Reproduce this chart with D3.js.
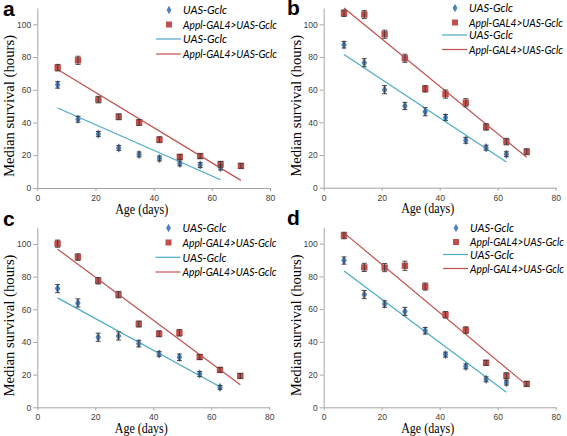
<!DOCTYPE html>
<html>
<head>
<meta charset="utf-8">
<script src="https://cdn.jsdelivr.net/npm/d3@7"></script>
<style>
  html, body { margin: 0; padding: 0; background: #fff; }
  svg { display: block; }
</style>
</head>
<body>
<svg id="chart" width="567" height="436"></svg>
<script>
// ---- Data ----
const agesUAS  = [7, 14, 21, 28, 35, 42, 49, 56, 63];
const agesAppl = [7, 14, 21, 28, 35, 42, 49, 56, 63, 70];

const aUAS  = [63, 42, 33, 24.5, 20.5, 18, 15, 14, 12.5];
const aAppl = [73.5, 78, 54, 43.5, 40, 29.5, 19, 19.5, 14.5, 13.5];
const bUAS  = [87.5, 76.5, 60, 50, 46.5, 43, 29, 24.5, 20.5];
const bAppl = [106.8, 106, 93.9, 79.2, 60.5, 57.3, 52, 37.2, 28.2, 22];
const cUAS  = [72.7, 63.9, 42.9, 43.7, 39, 32.7, 30.6, 20.4, 12.2];
const cAppl = [100.2, 92, 77.5, 69, 51, 45, 45.6, 30.8, 22.9, 19.2];
const dUAS  = [89.7, 68.9, 63.1, 58.6, 46.8, 32.2, 25, 17.1, 15.1];
const dAppl = [105, 85.5, 85.4, 86.5, 73.8, 56.6, 47.2, 27.2, 19.3, 14.3];

const aUASErr  = [2, 1.8, 1.5, 1.5, 1.5, 1.5, 1.5, 1.5, 1.5];
const aApplErr = [2, 2.5, 2, 1.8, 1.8, 1.8, 1.5, 1.5, 1.8, 1.5];
const bUASErr  = [2, 2.5, 2.5, 2.2, 2.5, 1.8, 1.8, 1.5, 1.5];
const bApplErr = [2, 2.5, 2.5, 2.5, 2, 2.5, 2.5, 2, 2, 1.8];
const cUASErr  = [2.5, 2.5, 2.5, 2.5, 2, 1.5, 2, 1.5, 1.2];
const cApplErr = [2.2, 2, 2, 2, 1.8, 1.8, 2, 1.5, 1.5, 1.5];
const dUASErr  = [2.2, 2.5, 2, 2.5, 2, 1.5, 1.5, 1.5, 1.5];
const dApplErr = [2, 2.5, 2.5, 2.8, 2.2, 2, 2, 1.5, 1.8, 1.5];

const panelLetters = ["a", "b", "c", "d"];
const legendLabels = ["UAS-Gclc", "Appl-GAL4>UAS-Gclc", "UAS-Gclc", "Appl-GAL4>UAS-Gclc"];
const xTicks = [0, 20, 40, 60, 80];
const yTicks = [0, 20, 40, 60, 80, 100];
const xTitle = "Age (days)";
const yTitle = "Median survival (hours)";

// ---- Styling ----
const COL_UAS = "#4F81BD", COL_APPL = "#C0504D";
const COL_UAS_LINE = "#4BACC6", COL_APPL_LINE = "#C0504D";
const AXIS_COL = "#a6a6a6", TICK_TEXT = "#404040";

const svg = d3.select("#chart");

function fit(xs, ys) {
  const mx = d3.mean(xs), my = d3.mean(ys);
  let sxy = 0, sxx = 0;
  xs.forEach((x, i) => { sxy += (x - mx) * (ys[i] - my); sxx += (x - mx) * (x - mx); });
  const m = sxy / sxx;
  return x => my + m * (x - mx);
}

const panels = [
  { letter: panelLetters[0], uas: aUAS, appl: aAppl, ue: aUASErr, ae: aApplErr,
    x0: 37.3, x1: 270, y0: 188, y100: 24.3, lx: 0, ly: 15.5, legX: 169, legY: [10, 24.5, 39, 54] },
  { letter: panelLetters[1], uas: bUAS, appl: bAppl, ue: bUASErr, ae: bApplErr,
    x0: 323.7, x1: 555.7, y0: 187.7, y100: 24.3, lx: 284, ly: 15, legX: 455, legY: [8, 22.5, 35, 49.5] },
  { letter: panelLetters[2], uas: cUAS, appl: cAppl, ue: cUASErr, ae: cApplErr,
    x0: 37.3, x1: 269.3, y0: 407.3, y100: 244, lx: 0, ly: 226, legX: 168.5, legY: [228, 242.5, 257.3, 272] },
  { letter: panelLetters[3], uas: dUAS, appl: dAppl, ue: dUASErr, ae: dApplErr,
    x0: 323.7, x1: 555.7, y0: 407.3, y100: 243.7, lx: 284, ly: 225, legX: 456, legY: [228, 242, 254.5, 268.5] }
];

panels.forEach(p => {
  const x = d3.scaleLinear().domain([0, 80]).range([p.x0, p.x1]);
  const y = d3.scaleLinear().domain([0, 100]).range([p.y0, p.y100]);
  const g = svg.append("g");

  // axes
  const yAx = g.append("g").attr("transform", `translate(${p.x0},0)`)
    .call(d3.axisLeft(y.copy().domain([0, 110]).range([p.y0, y(110)])).tickValues(yTicks).tickSize(4).tickSizeOuter(0));
  const xAx = g.append("g").attr("transform", `translate(0,${p.y0})`)
    .call(d3.axisBottom(x).tickValues(xTicks).tickSize(3).tickSizeOuter(0));
  [yAx, xAx].forEach(ax => {
    ax.select(".domain").attr("stroke", AXIS_COL);
    ax.selectAll(".tick line").attr("stroke", AXIS_COL);
    ax.selectAll(".tick text").attr("fill", TICK_TEXT)
      .style("font-family", "'Liberation Sans', Arial, sans-serif").style("font-size", "8.5px");
  });
  yAx.selectAll(".tick text").attr("x", -6);
  xAx.selectAll(".tick text").attr("y", 7);

  // titles
  g.append("text").text(xTitle)
    .attr("x", (p.x0 + p.x1) / 2 - 12).attr("y", p.y0 + 25.5)
    .attr("text-anchor", "middle")
    .attr("textLength", 53).attr("lengthAdjust", "spacingAndGlyphs")
    .style("font-family", "'Liberation Serif', 'Times New Roman', serif").style("font-size", "15px").attr("fill", "#000");
  g.append("text").text(yTitle)
    .attr("transform", `translate(${p.x0 - 23},${(p.y0 + y(110)) / 2 + 8}) rotate(-90)`)
    .attr("text-anchor", "middle")
    .attr("textLength", 142).attr("lengthAdjust", "spacingAndGlyphs")
    .style("font-family", "'Liberation Serif', 'Times New Roman', serif").style("font-size", "14.5px").attr("fill", "#000");

  // letter
  g.append("text").text(p.letter).attr("x", p.lx + 3).attr("y", p.ly)
    .style("font-family", "'Liberation Sans', Arial, sans-serif").style("font-weight", "bold").style("font-size", "21px");

  // trend lines (least-squares fit of each series)
  const fu = fit(agesUAS, p.uas), fa = fit(agesAppl, p.appl);
  const ux = d3.extent(agesUAS), axx = d3.extent(agesAppl);
  g.append("line").attr("x1", x(ux[0])).attr("y1", y(fu(ux[0]))).attr("x2", x(ux[1])).attr("y2", y(fu(ux[1])))
    .attr("stroke", COL_UAS_LINE).attr("stroke-width", 1.2);
  g.append("line").attr("x1", x(axx[0])).attr("y1", y(fa(axx[0]))).attr("x2", x(axx[1])).attr("y2", y(fa(axx[1])))
    .attr("stroke", COL_APPL_LINE).attr("stroke-width", 1.2);

  // markers
  const diamond = d3.symbol().type(d3.symbolDiamond).size(26);
  g.selectAll(".mu").data(p.uas).join("path")
    .attr("d", diamond).attr("transform", (d, i) => `translate(${x(agesUAS[i])},${y(d)})`)
    .attr("fill", COL_UAS);
  g.selectAll(".ma").data(p.appl).join("rect")
    .attr("x", (d, i) => x(agesAppl[i]) - 3.2).attr("y", d => y(d) - 3.2)
    .attr("width", 6.4).attr("height", 6.4).attr("fill", COL_APPL);

  // error bars
  function errBars(ages, vals, errs) {
    const eg = g.append("g").attr("stroke", "#3a3a3a").attr("stroke-width", 0.9);
    vals.forEach((v, i) => {
      const cx = x(ages[i]), yt = y(v + errs[i]), yb = y(v - errs[i]);
      eg.append("line").attr("x1", cx).attr("x2", cx).attr("y1", yt).attr("y2", yb);
      eg.append("line").attr("x1", cx - 2.5).attr("x2", cx + 2.5).attr("y1", yt).attr("y2", yt);
      eg.append("line").attr("x1", cx - 2.5).attr("x2", cx + 2.5).attr("y1", yb).attr("y2", yb);
    });
  }
  errBars(agesUAS, p.uas, p.ue);
  errBars(agesAppl, p.appl, p.ae);

  // legend
  const lg = g.append("g");
  const tx = p.legX + 14;
  lg.append("path").attr("d", d3.symbol().type(d3.symbolDiamond).size(20)())
    .attr("transform", `translate(${p.legX},${p.legY[0]})`).attr("fill", COL_UAS);
  lg.append("rect").attr("x", p.legX - 3).attr("y", p.legY[1] - 3).attr("width", 6).attr("height", 6).attr("fill", COL_APPL);
  lg.append("line").attr("x1", p.legX - 13).attr("x2", p.legX + 12).attr("y1", p.legY[2]).attr("y2", p.legY[2])
    .attr("stroke", COL_UAS_LINE).attr("stroke-width", 1.2);
  lg.append("line").attr("x1", p.legX - 13).attr("x2", p.legX + 12).attr("y1", p.legY[3]).attr("y2", p.legY[3])
    .attr("stroke", COL_APPL_LINE).attr("stroke-width", 1.2);
  legendLabels.forEach((t, i) => {
    lg.append("text").text(t).attr("x", tx).attr("y", p.legY[i] + 4.2)
      .attr("textLength", i % 2 === 0 ? 44 : 94).attr("lengthAdjust", "spacingAndGlyphs")
      .style("font-family", "Lato, 'Open Sans', sans-serif").style("font-style", "italic").style("font-size", "12px")
      .attr("fill", "#000");
  });
});
</script>
</body>
</html>
